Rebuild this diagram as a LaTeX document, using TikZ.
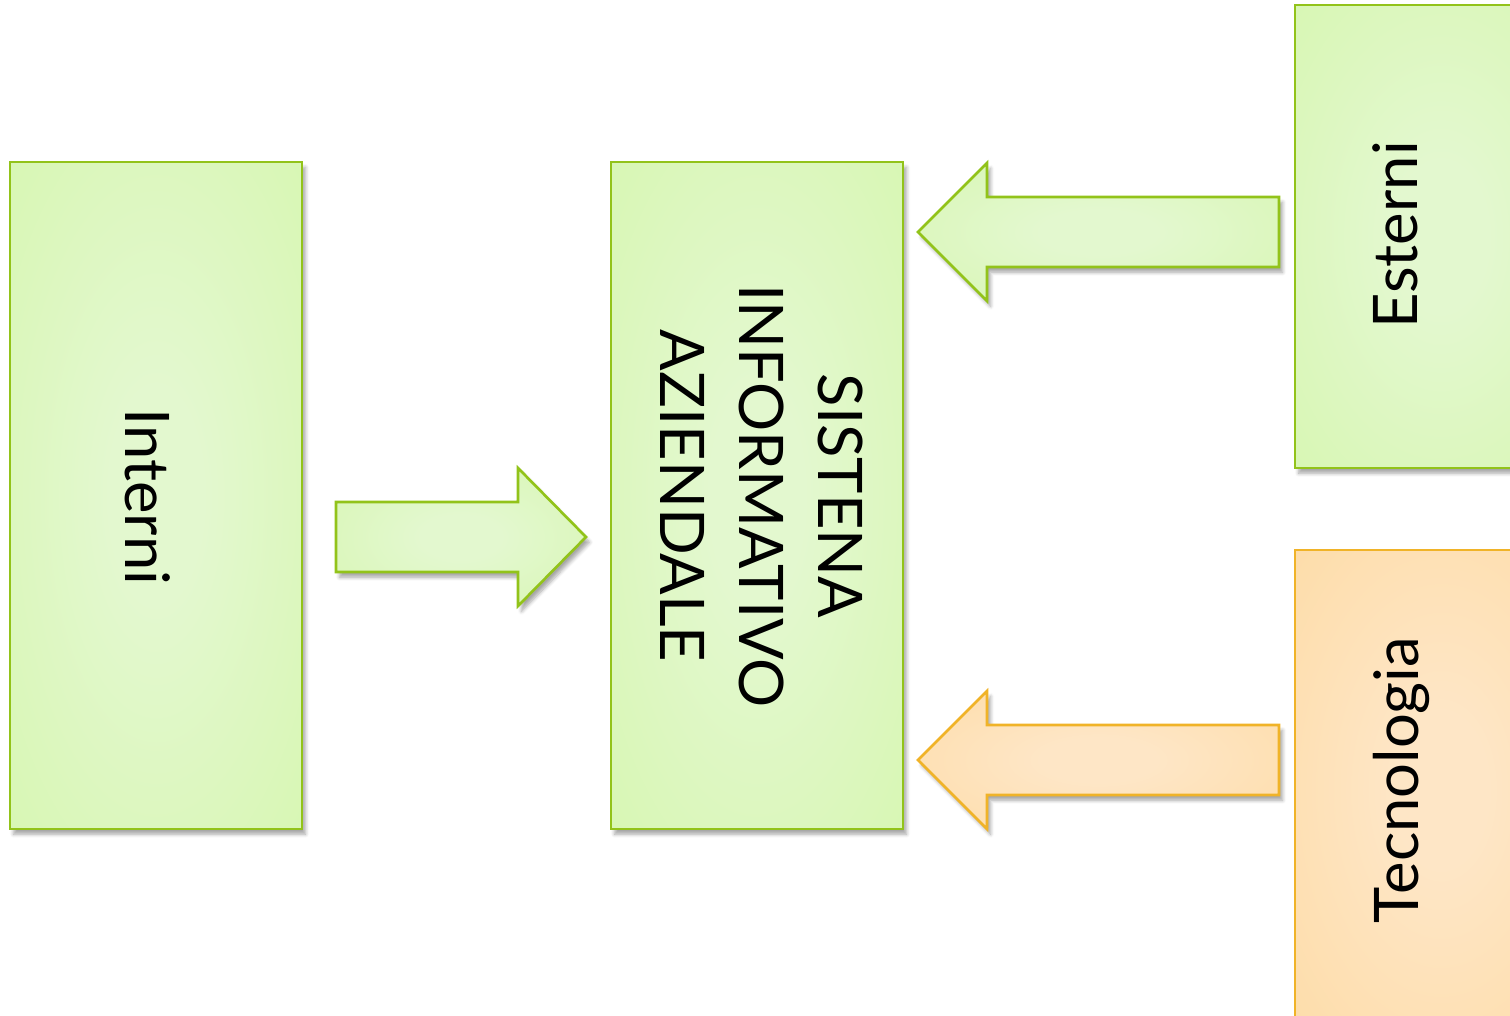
\documentclass[tikz,border=0pt]{standalone}
\usepackage{fontspec}
\setmainfont{Lato}
\usetikzlibrary{shadows.blur}

\definecolor{greenline}{HTML}{92C31A}
\definecolor{greenedge}{HTML}{D2F6A6}
\definecolor{greenmid}{HTML}{E3F8CF}
\definecolor{orangeline}{HTML}{F0B328}
\definecolor{orangeedge}{HTML}{FDD89B}
\definecolor{orangemid}{HTML}{FEE6C6}

\pgfdeclareradialshading{greenglow}{\pgfpoint{0bp}{0bp}}{color(0bp)=(greenmid); color(8bp)=(greenmid); color(50bp)=(greenedge)}
\pgfdeclareradialshading{orangeglow}{\pgfpoint{0bp}{0bp}}{color(0bp)=(orangemid); color(8bp)=(orangemid); color(50bp)=(orangeedge)}

\tikzset{
  softshadow/.style={blur shadow={shadow xshift=2pt, shadow yshift=-3pt, shadow opacity=35, shadow blur steps=6}},
  greenbox/.style={draw=greenline, line width=1.5pt, shade, shading=greenglow, softshadow},
  orangebox/.style={draw=orangeline, line width=1.5pt, shade, shading=orangeglow, softshadow},
  boxtext/.style={font=\fontsize{35}{45}\selectfont, align=center, inner sep=0pt}
}

\begin{document}
\begin{tikzpicture}[x=0.02cm, y=-0.02cm]
			\useasboundingbox (0,0) rectangle (1510,1015);
			\clip (0,0) rectangle (1510,1015);

			% boxes
			\node[greenbox, minimum width=5.84cm, minimum height=13.34cm] (interni) at (156,495.5) {};
			\node[greenbox, minimum width=5.84cm, minimum height=13.34cm] (sistema) at (757,495.5) {};
			\node[greenbox, minimum width=5.84cm, minimum height=9.26cm] (esterni) at (1441,236.5) {};
			\node[orangebox, minimum width=5.84cm, minimum height=9.6cm] (tecnologia) at (1441,790) {};

			% labels
			\node[boxtext, rotate=-90] (interni-text) at (148,497) {Interni};
			\node[boxtext, rotate=-90] (sistema-text) at (762,496) {SISTENA\\INFORMATIVO\\AZIENDALE};
			\node[boxtext, rotate=90] (esterni-text) at (1395,235) {Esterni};
			\node[boxtext, rotate=90] (tecnologia-text) at (1401,780) {Tecnologia};

			% block arrows
			\coordinate (in-tip) at (586,537);
			\coordinate (est-tip) at (918,232);
			\coordinate (tec-tip) at (918,760);

			\draw[greenbox, line join=miter] (in-tip) -- ++(-68,-69) -- ++(0,34) -- ++(-182,0) -- ++(0,70) -- ++(182,0) -- ++(0,34) -- cycle;
			\draw[greenbox, line join=miter] (est-tip) -- ++(69,-69) -- ++(0,34) -- ++(292,0) -- ++(0,70) -- ++(-292,0) -- ++(0,34) -- cycle;
			\draw[orangebox, line join=miter] (tec-tip) -- ++(69,-69) -- ++(0,34) -- ++(292,0) -- ++(0,70) -- ++(-292,0) -- ++(0,34) -- cycle;
\end{tikzpicture}
\end{document}
